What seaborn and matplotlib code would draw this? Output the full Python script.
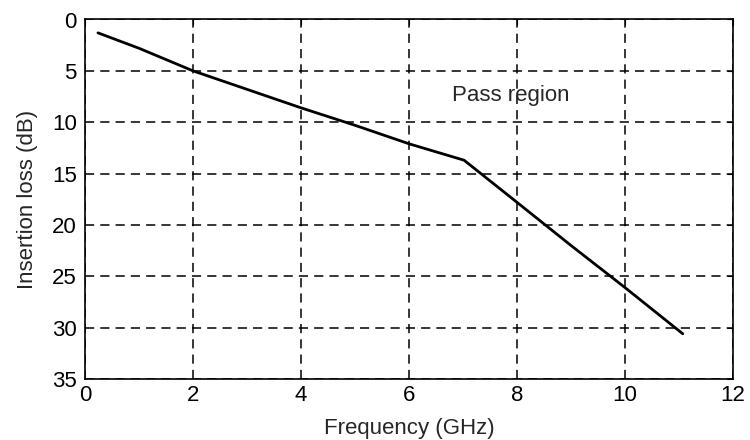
import seaborn as sns
import matplotlib.pyplot as plt
import pandas as pd

# Datos
frecuencia = [0.24, 1.0, 2.0, 3.0, 4.0, 5.0, 6.0, 7.02, 8.0, 9.0, 10.0, 11.07]
perdida = [1.3, 2.8, 5.0, 6.8, 8.6, 10.3, 12.1, 13.7, 17.8, 22.0, 26.1, 30.6]
xticks = [0, 2, 4, 6, 8, 10, 12]
yticks = [0, 5, 10, 15, 20, 25, 30, 35]

df = pd.DataFrame({"freq": frecuencia, "loss": perdida})

sns.set_style("white")
plt.rcParams["font.family"] = ["Liberation Sans", "DejaVu Sans"]

fig = plt.figure(figsize=(7.5, 4.4), dpi=100)
ax = fig.add_axes([85 / 750, 1 - 379 / 440, 648 / 750, 359.5 / 440])

sns.lineplot(data=df, x="freq", y="loss", color="black", linewidth=2, ax=ax)

ax.set_xlim(0, 12)
ax.set_ylim(35, 0)
ax.set_xticks(xticks)
ax.set_yticks(yticks)
ax.grid(True, color="black", linestyle=(0, (6, 4)), linewidth=1.1)
ax.tick_params(direction="in", length=4, top=True, right=True, labelsize=16, colors="black")
ax.tick_params(axis="x", pad=4)
ax.tick_params(axis="y", pad=6)
for s in ax.spines.values():
    s.set_color("black")
    s.set_linewidth(1.2)

ax.set_xlabel("Frequency (GHz)", fontsize=16, labelpad=9)
ax.set_ylabel("Insertion loss (dB)", fontsize=16, labelpad=10)
ax.text(6.8, 7.4, "Pass region", fontsize=16, va="center", ha="left")

fig.savefig("out.png", dpi=100)
